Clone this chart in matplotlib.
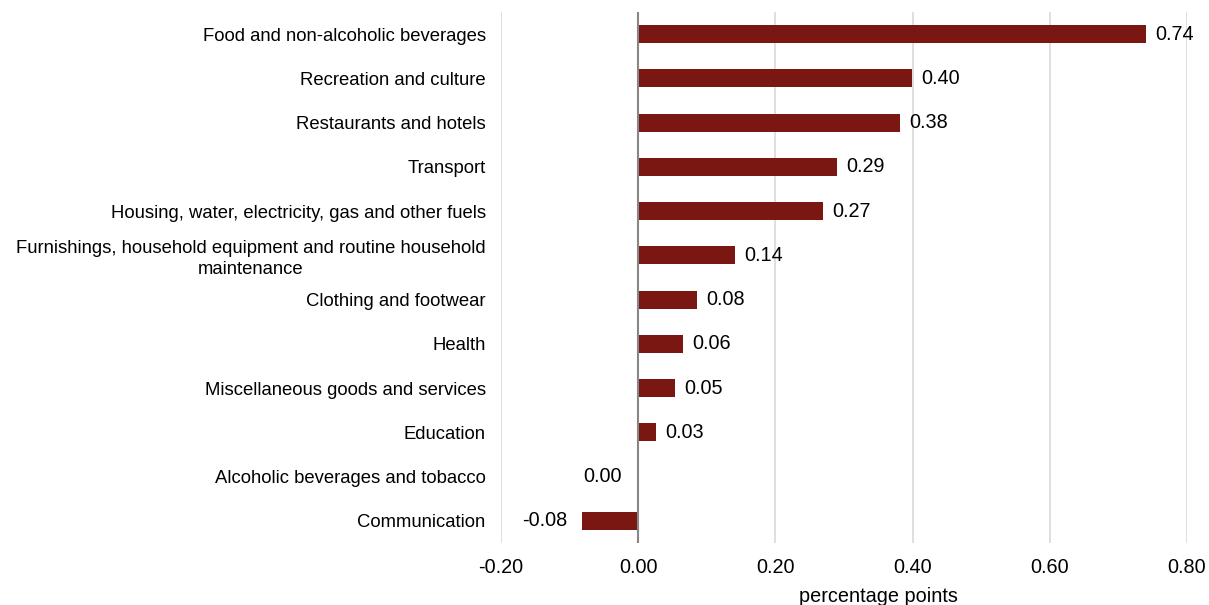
import matplotlib
matplotlib.use("Agg")
import matplotlib.pyplot as plt

categories = [
    "Food and non-alcoholic beverages",
    "Recreation and culture",
    "Restaurants and hotels",
    "Transport",
    "Housing, water, electricity, gas and other fuels",
    "Furnishings, household equipment and routine household\nmaintenance",
    "Clothing and footwear",
    "Health",
    "Miscellaneous goods and services",
    "Education",
    "Alcoholic beverages and tobacco",
    "Communication",
]
values = [0.740, 0.399, 0.382, 0.290, 0.270, 0.141, 0.086, 0.066, 0.054, 0.026, -0.002, -0.082]
value_labels = ["0.74", "0.40", "0.38", "0.29", "0.27", "0.14", "0.08", "0.06", "0.05", "0.03", "0.00", "-0.08"]
xticks = [-0.2, 0.0, 0.2, 0.4, 0.6, 0.8]
xtick_labels = ["-0.20", "0.00", "0.20", "0.40", "0.60", "0.80"]

plt.rcParams['font.family'] = ['Liberation Sans', 'DejaVu Sans']

fig = plt.figure(figsize=(12.09, 6.05), dpi=100)
ax = fig.add_axes([501/1209, 1 - 543/605, (1187-501)/1209, (543-12)/605])

color = "#7B1712"
y = list(range(len(categories)))
ax.barh(y, values, height=0.41, color=color, zorder=3)

ax.set_ylim(len(categories) - 0.5, -0.5)
ax.set_xlim(-0.2, 0.8)
ax.set_xticks(xticks)
ax.set_xticklabels(xtick_labels, fontsize=14.3)
ax.set_yticks(y)
ax.set_yticklabels(categories, fontsize=13.3, multialignment='center', linespacing=1.25)
ax.tick_params(axis='both', length=0)
ax.tick_params(axis='x', pad=11)
ax.tick_params(axis='y', pad=11)

for s in ax.spines.values():
    s.set_visible(False)

ax.grid(axis='x', color='#D9D9D9', linewidth=1.2, zorder=0)
ax.axvline(0, color='#878787', linewidth=1.5, zorder=4)

for yi, v, t in zip(y, values, value_labels):
    if v >= 0:
        ax.annotate(t, (v, yi), xytext=(9, 0), textcoords='offset pixels',
                    ha='left', va='center', fontsize=14.3)
    else:
        ax.annotate(t, (v, yi), xytext=(-15, 0), textcoords='offset pixels',
                    ha='right', va='center', fontsize=14.3)

ax.text(0.55, -0.1, "percentage points", transform=ax.transAxes, ha='center', va='center', fontsize=14.3)

fig.savefig("out.png", dpi=100)
